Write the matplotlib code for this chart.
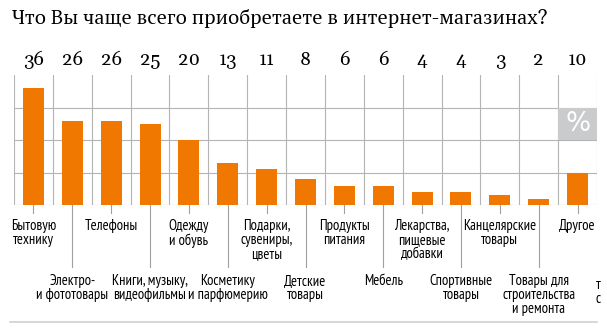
import matplotlib.pyplot as plt
from matplotlib.patches import Rectangle
from matplotlib import font_manager as fm

categories = ['Бытовую\nтехнику', 'Электро-\nи фототовары', 'Телефоны',
              'Книги, музыку,\nвидеофильмы', 'Одежду\nи обувь',
              'Косметику\nи парфюмерию', 'Подарки,\nсувениры,\nцветы',
              'Детские\nтовары', 'Продукты\nпитания', 'Мебель',
              'Лекарства,\nпищевые\nдобавки', 'Спортивные\nтовары',
              'Канцелярские\nтовары', 'Товары для\nстроительства\nи ремонта',
              'Другое']
values = [36, 26, 26, 25, 20, 13, 11, 8, 6, 6, 4, 4, 3, 2, 10]

orange = '#f07800'
grid = '#b4b4b4'


def find_font(patterns, size):
    files = [f.fname for f in fm.fontManager.ttflist]
    for p in patterns:
        for fn in files:
            if fn.split('/')[-1].startswith(p):
                return fm.FontProperties(fname=fn, size=size)
    return fm.FontProperties(family='DejaVu Sans', size=size)


narrow = find_font(['PTSansNarrow-Regular', 'PT_Sans-Narrow-Web-Regular', 'RobotoCondensed-Regular',
                    'FiraSansCondensed-Regular', 'Ubuntu-C'], 10.5)
serif = ['Gelasio', 'PT Serif', 'DejaVu Serif']

fig = plt.figure(figsize=(6.07, 3.36), dpi=100)
ax = fig.add_axes([14 / 607, 1 - 205 / 336, 583 / 607, 130 / 336])
n = len(values)
x = list(range(n))

ax.bar(x, values, width=0.54, color=orange, zorder=3)
ax.set_xlim(-0.5, n - 0.5)
ax.set_ylim(0, 40)
ax.axis('off')

# grid
for i in range(n + 1):
    ax.plot([i - 0.5, i - 0.5], [0, 40], color=grid, lw=0.8, zorder=1)
for yv in [0, 10, 20, 30]:
    ax.plot([-0.5, n - 0.5], [yv, yv], color=grid, lw=0.8, zorder=1)

# percent box
ax.add_patch(Rectangle((n - 1.5, 20), 1, 10, facecolor='#c9cbcd', edgecolor='none', zorder=2))
ax.text(n - 1, 25, '%', color='white', fontsize=19, ha='center', va='center',
        family='DejaVu Sans', zorder=4)

# values
for i, v in enumerate(values):
    ax.text(i, 44.5, str(v), ha='center', va='center', fontsize=13.5,
            family=serif, clip_on=False)

# category labels with leader ticks
for i, lab in enumerate(categories):
    low = (i % 2 == 1)
    end = -19 if low else -2.5
    ax.plot([i, i], [0, end], color='#a0a0a0', lw=0.8, clip_on=False, zorder=1)
    ty = -21.2 if low else -4.4
    ax.text(i, ty, lab, ha='center', va='top', fontproperties=narrow,
            linespacing=1.0, clip_on=False)

fig.text(12 / 607, 1 - 18 / 336, 'Что Вы чаще всего приобретаете в интернет-магазинах?',
         fontsize=14.5, family=serif, va='center', ha='left')

fig.add_artist(plt.Line2D([10 / 607, 597 / 607], [1 - 322 / 336] * 2, color='#d0d0d0', lw=1.2))
fig.text(596 / 607, 1 - 292 / 336, 'т\nс', fontproperties=narrow, va='center', ha='left',
         linespacing=1.0)

fig.savefig('out.png', dpi=100)
